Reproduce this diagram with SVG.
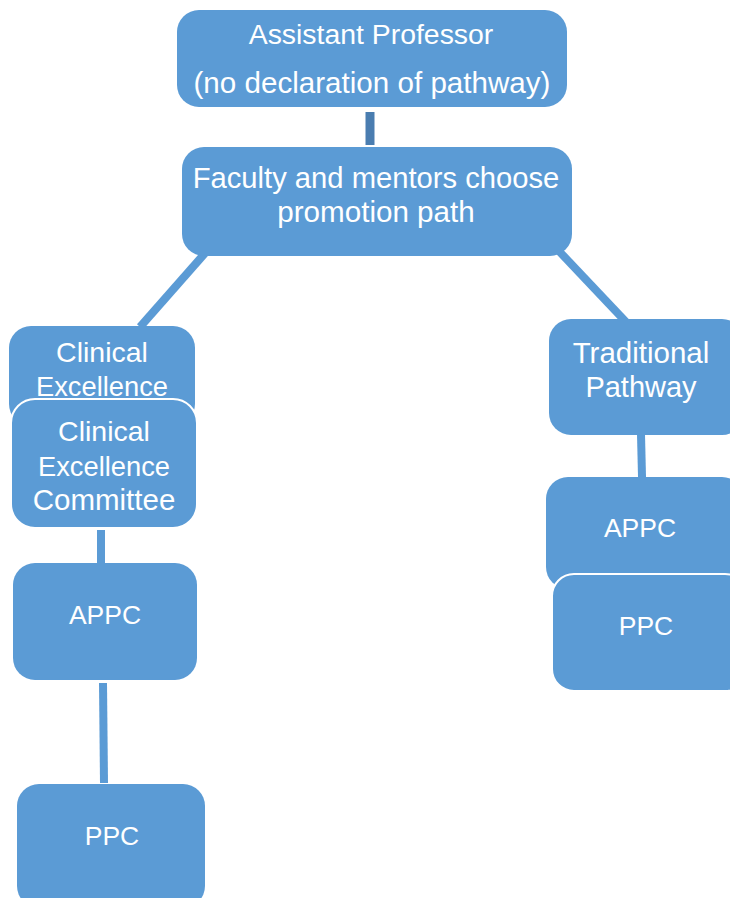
<svg xmlns="http://www.w3.org/2000/svg" width="730" height="898" viewBox="0 0 730 898">
<style>
.box{fill:#5B9BD5;}
.ov{fill:#5B9BD5;stroke:#ffffff;stroke-width:2;}
.t{font-family:"Liberation Sans",Arial,sans-serif;font-size:28.5px;fill:#ffffff;text-anchor:middle;}
.s{font-size:26.5px;}
.e{font-size:27.3px;}
.c{stroke:#5B9BD5;stroke-width:8;fill:none;}
</style>
<rect width="730" height="898" fill="#ffffff"/>
<g id="connectors">
<line x1="370" y1="112" x2="370" y2="145" stroke="#4A7DB0" stroke-width="9"/>
<line class="c" x1="206" y1="252" x2="140" y2="327"/>
<line class="c" x1="557" y1="249" x2="627" y2="323"/>
<line class="c" x1="101" y1="530" x2="101" y2="563"/>
<line class="c" x1="103" y1="683" x2="104" y2="783"/>
<line class="c" x1="641" y1="434" x2="642" y2="477"/>
</g>
<g id="n_asst">
<rect class="box" x="177" y="10" width="390" height="97" rx="22"/>
<text class="t" x="371" y="44" style="font-size:28.4px">Assistant Professor</text>
<text class="t" x="372" y="93" style="font-size:29.6px">(no declaration of pathway)</text>
</g>
<g id="n_faculty">
<rect class="box" x="182" y="147" width="390" height="109" rx="22"/>
<text class="t" x="376" y="188" style="font-size:29.2px">Faculty and mentors choose</text>
<text class="t" x="376" y="222" style="font-size:29.6px">promotion path</text>
</g>
<g id="n_ce">
<rect class="box" x="9" y="326" width="186" height="100" rx="22"/>
<text class="t" x="102" y="362">Clinical</text>
<text class="t e" x="102" y="396">Excellence</text>
</g>
<g id="n_cec">
<rect class="ov" x="11" y="399" width="186" height="129" rx="24"/>
<text class="t" x="104" y="441">Clinical</text>
<text class="t e" x="104" y="476">Excellence</text>
<text class="t" x="104" y="510" style="font-size:29.5px">Committee</text>
</g>
<g id="n_appc_l">
<rect class="box" x="13" y="563" width="184" height="117" rx="22"/>
<text class="t s" x="105" y="624">APPC</text>
</g>
<g id="n_ppc_l">
<rect class="box" x="17" y="784" width="188" height="124" rx="22"/>
<text class="t s" x="112" y="845">PPC</text>
</g>
<g id="n_trad">
<rect class="box" x="549" y="319" width="195" height="116" rx="22"/>
<text class="t" x="641" y="363" style="font-size:29.5px">Traditional</text>
<text class="t" x="641" y="397" style="font-size:29px">Pathway</text>
</g>
<g id="n_appc_r">
<rect class="box" x="546" y="477" width="198" height="112" rx="22"/>
<text class="t s" x="640" y="537">APPC</text>
</g>
<g id="n_ppc_r">
<rect class="ov" x="552" y="574" width="195" height="117" rx="22"/>
<text class="t s" x="646" y="635">PPC</text>
</g>
</svg>
